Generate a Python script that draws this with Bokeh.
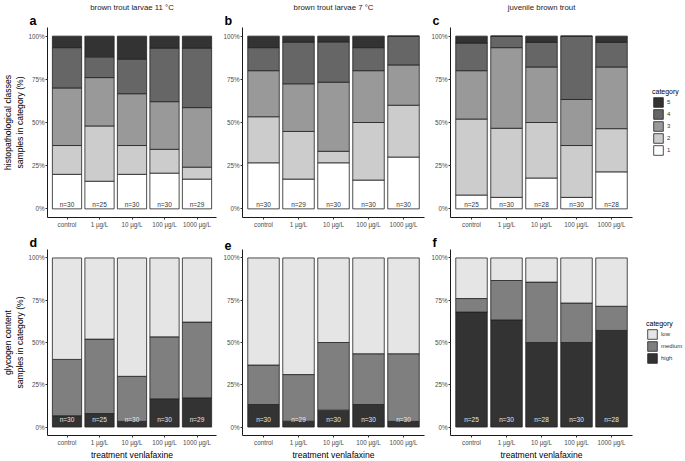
from bokeh.plotting import figure
from bokeh.models import (ColumnDataSource, FixedTicker, NumeralTickFormatter, Range1d,
                          Title, Legend, LegendItem)
from bokeh.layouts import row, column
from bokeh.core.properties import value
from bokeh.embed import file_html
from bokeh.resources import INLINE

# ---------------- data ----------------
treatments = ["control", "1 µg/L", "10 µg/L", "100 µg/L", "1000 µg/L"]
histo_classes = ["1", "2", "3", "4", "5"]
histo_colors = ["#ffffff", "#cccccc", "#999999", "#666666", "#333333"]
glyco_classes = ["high", "medium", "low"]
glyco_colors = ["#333333", "#7f7f7f", "#e5e5e5"]

# counts per treatment, histopathological class 1..5 (bottom to top)
a_counts = [[6, 5, 10, 7, 2], [4, 8, 7, 3, 3], [6, 5, 9, 6, 4], [6, 4, 8, 9, 2], [5, 2, 10, 10, 2]]
a_n = [30, 25, 30, 30, 29]
b_counts = [[8, 8, 8, 4, 2], [5, 8, 8, 7, 1], [8, 2, 12, 7, 1], [5, 10, 9, 4, 2], [9, 9, 7, 5, 0]]
b_n = [30, 29, 30, 30, 30]
c_counts = [[2, 11, 7, 4, 1], [2, 12, 14, 2, 0], [5, 9, 9, 4, 1], [2, 9, 8, 11, 0], [6, 7, 10, 4, 1]]
c_n = [25, 30, 28, 30, 28]

# counts per treatment, glycogen content high, medium, low (bottom to top)
d_counts = [[2, 10, 18], [2, 11, 12], [1, 8, 21], [5, 11, 14], [5, 13, 11]]
d_n = [30, 25, 30, 30, 29]
e_counts = [[4, 7, 19], [1, 8, 20], [3, 12, 15], [4, 9, 17], [1, 12, 17]]
e_n = [30, 29, 30, 30, 30]
f_counts = [[17, 2, 6], [19, 7, 4], [14, 10, 4], [15, 7, 8], [16, 4, 8]]
f_n = [25, 30, 28, 30, 28]

panel_titles = ["brown trout larvae 11 °C", "brown trout larvae 7 °C", "juvenile brown trout"]
ylab_top = "histopathological classes\nsamples in category (%)"
ylab_bottom = "glycogen content\nsamples in category (%)"
xlab = "treatment venlafaxine"

FONT = "Liberation Sans"
LINE = "#222222"


def stacked_source(counts, classes):
    xs = list(range(1, len(treatments) + 1))
    data = {"x": xs}
    keys = []
    for i, cls in enumerate(classes):
        k = "c" + cls
        keys.append(k)
        data[k] = [r[i] / sum(r) for r in counts]
    return ColumnDataSource(data), keys, xs


def make_panel(counts, n_list, classes, colors, letter, title, ylabel, xlabel,
               fw, fh, bl, br, bt, bb, n_y, n_color):
    src, keys, xs = stacked_source(counts, classes)

    p = figure(frame_width=fw, frame_height=fh, output_backend="svg", toolbar_location=None,
               x_range=Range1d(0.4, len(treatments) + 0.6), y_range=Range1d(-0.05, 1.05),
               min_border_left=bl, min_border_right=br, min_border_top=bt, min_border_bottom=bb)
    p.outline_line_color = None
    p.xgrid.visible = False
    p.ygrid.visible = False
    p.background_fill_color = "white"
    p.border_fill_color = "white"

    p.vbar_stack(keys, x="x", width=0.9, source=src, fill_color=colors,
                 line_color=LINE, line_width=0.8)

    nsrc = ColumnDataSource({"x": xs, "y": [n_y] * len(xs), "t": ["n=%d" % v for v in n_list]})
    p.text(x="x", y="y", text="t", source=nsrc, text_font=value(FONT), text_font_size="6.5px",
           text_align="center", text_baseline="middle", text_color=n_color)

    p.xaxis.ticker = FixedTicker(ticks=xs)
    p.xaxis.major_label_overrides = {x: t for x, t in zip(xs, treatments)}
    p.yaxis.ticker = FixedTicker(ticks=[0, 0.25, 0.5, 0.75, 1.0])
    p.yaxis.formatter = NumeralTickFormatter(format="0%")
    for ax in (p.xaxis[0], p.yaxis[0]):
        ax.axis_line_color = "#1a1a1a"
        ax.axis_line_width = 1
        ax.major_tick_line_color = "#333333"
        ax.major_tick_in = 0
        ax.major_tick_out = 2
        ax.minor_tick_line_color = None
        ax.major_label_text_font = FONT
        ax.major_label_text_font_size = "6.3px"
        ax.major_label_text_color = "#4d4d4d"
        ax.major_label_standoff = 1
        ax.axis_label_text_font = FONT
        ax.axis_label_text_font_style = "normal"
        ax.axis_label_text_color = "#000000"
    if ylabel:
        p.yaxis.axis_label = ylabel
        p.yaxis.axis_label_text_font_size = "8.6px"
        p.yaxis.axis_label_standoff = 0
    if xlabel:
        p.xaxis.axis_label = xlabel
        p.xaxis.axis_label_text_font_size = "8.6px"
        p.xaxis.axis_label_standoff = 1

    p.add_layout(Title(text=letter, align="left", offset=-18, text_font=FONT,
                       text_font_size="12.5px", text_font_style="bold", text_color="#000000",
                       standoff=0), "above")
    if title:
        p.add_layout(Title(text=title, align="center", text_font=FONT, text_font_size="7.8px",
                           text_font_style="normal", text_color="#1a1a1a", standoff=0), "above")
    return p


def make_legend(counts, classes, colors, width, bt, fh, bb, dx):
    src, keys, xs = stacked_source(counts, classes)
    p = figure(frame_width=width, frame_height=fh, output_backend="svg", toolbar_location=None,
               x_axis_type=None, y_axis_type=None, x_range=Range1d(0.4, 5.6),
               y_range=Range1d(-0.05, 1.05), min_border_left=0, min_border_right=0,
               min_border_top=bt, min_border_bottom=bb)
    p.outline_line_color = None
    p.xgrid.visible = False
    p.ygrid.visible = False
    rs = p.vbar_stack(keys, x="x", width=0.9, source=src, fill_color=colors,
                      line_color=LINE, line_width=0.8)
    for r in rs:
        r.visible = False
    items = [LegendItem(label=cls, renderers=[r]) for cls, r in zip(classes, rs)][::-1]
    lg = Legend(items=items, location="center_left", margin=dx,
                title="category", title_text_font=FONT, title_text_font_size="7px",
                title_text_font_style="normal", title_text_color="#000000", title_standoff=1,
                label_text_font=FONT, label_text_font_size="6px", label_text_color="#333333",
                glyph_width=12, glyph_height=12, label_height=12, label_standoff=3,
                spacing=0, padding=0, border_line_color=None,
                background_fill_alpha=0, inactive_fill_alpha=0)
    p.add_layout(lg, "center")
    return p


H1, H2 = 190, 186
T1, B1, T2, B2 = 24, 11, 19, 23
fa = make_panel(a_counts, a_n, histo_classes, histo_colors, "a", panel_titles[0], ylab_top, None,
                169, H1, 40, 2, T1, B1, 0.028, "#333333")
fb = make_panel(b_counts, b_n, histo_classes, histo_colors, "b", panel_titles[1], None, None,
                182, H1, 24, 2, T1, B1, 0.028, "#333333")
fc = make_panel(c_counts, c_n, histo_classes, histo_colors, "c", panel_titles[2], None, None,
                182, H1, 24, 2, T1, B1, 0.028, "#333333")
lg_top = make_legend(c_counts, histo_classes, histo_colors, 50, T1, H1, B1, 18)

fd = make_panel(d_counts, d_n, glyco_classes, glyco_colors, "d", None, ylab_bottom, xlab,
                169, H2, 40, 2, T2, B2, 0.045, "#e6e6e6")
fe = make_panel(e_counts, e_n, glyco_classes, glyco_colors, "e", None, None, xlab,
                182, H2, 24, 2, T2, B2, 0.045, "#e6e6e6")
ff = make_panel(f_counts, f_n, glyco_classes, glyco_colors, "f", None, None, xlab,
                182, H2, 24, 2, T2, B2, 0.045, "#e6e6e6")
lg_bot = make_legend(f_counts, glyco_classes, glyco_colors, 50, T2, H2, B2, 12)

layout = column(row(fa, fb, fc, lg_top), row(fd, fe, ff, lg_bot))
open("out.html", "w").write(file_html(layout, INLINE))
